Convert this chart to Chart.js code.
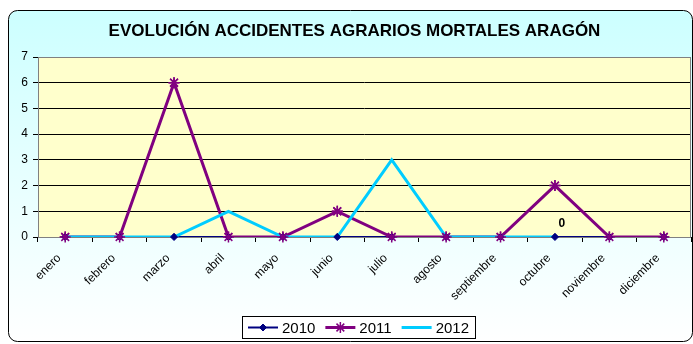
<!DOCTYPE html>
<html lang="es">
<head>
<meta charset="utf-8">
<title>Evolución accidentes agrarios mortales Aragón</title>
<script src="https://cdn.jsdelivr.net/npm/chart.js@4.4.1/dist/chart.umd.min.js"></script>
<style>
  html, body { margin: 0; padding: 0; background: #fff; }
  canvas { display: block; }
</style>
</head>
<body>
<canvas id="accidentesChart" width="693" height="344"></canvas>
<script>
// Meses del eje horizontal
const meses = ["enero", "febrero", "marzo", "abril", "mayo", "junio", "julio",
  "agosto", "septiembre", "octubre", "noviembre", "diciembre"];

// Accidentes mortales por mes y año
const valores2010 = [0, 0, 0, 0, 0, 0, 0, 0, 0, 0, 0, 0];
const valores2011 = [0, 0, 6, 0, 0, 1, 0, 0, 0, 2, 0, 0];
const valores2012 = [0, 0, 0, 1, 0, 0, 3, 0, 0, 0, null, null]; // hasta octubre

// Marcas del eje vertical
const ticksY = [0, 1, 2, 3, 4, 5, 6, 7];

// Valores rotulados en el gráfico: [serie, mes]
const rotulos = [[0, 9]];

const fuente = '"Liberation Sans", Arial, sans-serif';

// Fondo del gráfico: marco redondeado con degradado y área de trazado amarilla
const fondo = {
  id: "fondo",
  beforeDraw(chart) {
    const ctx = chart.ctx;
    const a = chart.chartArea;
    ctx.save();
    const grad = ctx.createLinearGradient(0, 10, 0, chart.height);
    grad.addColorStop(0, "#ccffff");
    grad.addColorStop(0.45, "#e4ffff");
    grad.addColorStop(1, "#ffffff");
    ctx.beginPath();
    ctx.roundRect(8.5, 10.5, 684, 331, 9);
    ctx.fillStyle = grad;
    ctx.fill();
    ctx.strokeStyle = "#000";
    ctx.lineWidth = 1;
    ctx.stroke();
    ctx.fillStyle = "#ffffcc";
    ctx.fillRect(a.left, a.top, a.right - a.left, a.bottom - a.top);
    ctx.restore();
  },
  beforeDatasetsDraw(chart) {
    const ctx = chart.ctx;
    const a = chart.chartArea;
    ctx.save();
    ctx.strokeStyle = "#808080";
    ctx.lineWidth = 1;
    ctx.strokeRect(a.left + 0.5, a.top + 0.5, a.right - a.left - 1, a.bottom - a.top);
    ctx.restore();
  }
};

// Marcadores por encima de las líneas (2010 y luego 2011) y rótulos de valor
const valores = {
  id: "valores",
  afterDatasetsDraw(chart) {
    const ctx = chart.ctx;
    [0, 1].forEach(s => chart.getDatasetMeta(s).data.forEach(p => p.draw(ctx, chart.chartArea)));
    ctx.save();
    ctx.font = "bold 12px " + fuente;
    ctx.fillStyle = "#000";
    ctx.textAlign = "center";
    ctx.textBaseline = "middle";
    rotulos.forEach(([s, i]) => {
      const p = chart.getDatasetMeta(s).data[i];
      ctx.fillText(String(chart.data.datasets[s].data[i]), p.x + 7, p.y - 13);
    });
    ctx.restore();
  }
};

// Leyenda con línea y marcador de cada serie, en recuadro
const leyenda = {
  id: "leyenda",
  afterDraw(chart) {
    const ctx = chart.ctx;
    const series = chart.data.datasets;
    const x0 = 242, y0 = 316, alto = 22, pad = 6, linea = 30, hueco = 4, sep = 10;
    ctx.save();
    ctx.font = "15px " + fuente;
    const anchos = series.map(d => ctx.measureText(d.label).width);
    const total = anchos.reduce((s, w) => s + linea + hueco + w, 0) + sep * (series.length - 1) + pad * 2;
    ctx.fillStyle = "#fff";
    ctx.fillRect(x0, y0, total, alto);
    ctx.strokeStyle = "#000";
    ctx.lineWidth = 1;
    ctx.strokeRect(x0 + 0.5, y0 + 0.5, total, alto);
    let x = x0 + pad;
    const y = y0 + alto / 2 + 0.5;
    series.forEach((d, k) => {
      ctx.strokeStyle = d.borderColor;
      ctx.lineWidth = d.borderWidth;
      ctx.beginPath();
      ctx.moveTo(x, y);
      ctx.lineTo(x + linea, y);
      ctx.stroke();
      if (d.pointRadius > 0) {
        ctx.fillStyle = d.pointBackgroundColor;
        ctx.strokeStyle = d.pointBorderColor;
        ctx.lineWidth = d.pointBorderWidth;
        Chart.helpers.drawPoint(ctx, {
          pointStyle: d.pointStyle, radius: d.pointRadius,
          borderWidth: d.pointBorderWidth, rotation: 0
        }, x + linea / 2, y);
      }
      ctx.fillStyle = "#000";
      ctx.textAlign = "left";
      ctx.textBaseline = "middle";
      ctx.fillText(d.label, x + linea + hueco, y + 1);
      x += linea + hueco + anchos[k] + sep;
    });
    ctx.restore();
  }
};

const config = {
  type: "line",
  data: {
    labels: meses,
    datasets: [
      {
        label: "2010",
        data: valores2010,
        borderColor: "#000080",
        borderWidth: 2,
        pointStyle: "rectRot",
        pointRadius: 3.5,
        pointBackgroundColor: "#000080",
        pointBorderColor: "#000080",
        pointBorderWidth: 1,
        order: 3
      },
      {
        label: "2011",
        data: valores2011,
        borderColor: "#800080",
        borderWidth: 3,
        pointStyle: "star",
        pointRadius: 5.5,
        pointBackgroundColor: "#800080",
        pointBorderColor: "#800080",
        pointBorderWidth: 1.5,
        order: 2
      },
      {
        label: "2012",
        data: valores2012,
        borderColor: "#00ccff",
        borderWidth: 3,
        pointRadius: 0,
        order: 1
      }
    ]
  },
  options: {
    responsive: false,
    animation: false,
    events: [],
    layout: { autoPadding: false, padding: { left: 18, right: 2, top: 10, bottom: 0 } },
    elements: { line: { tension: 0 } },
    plugins: {
      legend: { display: false },
      tooltip: { enabled: false },
      title: {
        display: true,
        text: "EVOLUCIÓN ACCIDENTES AGRARIOS MORTALES ARAGÓN",
        color: "#000",
        font: { family: fuente, size: 17, weight: "bold" },
        padding: { top: 11, bottom: 15.6 }
      }
    },
    scales: {
      x: {
        offset: true,
        border: { display: false },
        grid: { offset: true, drawOnChartArea: false, tickLength: 5, tickColor: "#000" },
        ticks: {
          minRotation: 45, maxRotation: 45, padding: 9, labelOffset: -6, color: "#000",
          font: { family: fuente, size: 12 }
        },
        afterFit: s => {
          s.height = 107;
          s.paddingLeft = 0;
          s.paddingRight = 0;
        }
      },
      y: {
        min: 0,
        max: 7,
        border: { display: false },
        afterBuildTicks: s => { s.ticks = ticksY.map(v => ({ value: v })); },
        grid: {
          color: c => (c.tick.value === 7 ? "rgba(0,0,0,0)" : "#000"),
          tickColor: "#000",
          tickLength: 5,
          lineWidth: 1
        },
        ticks: { padding: 5, color: "#000", font: { family: fuente, size: 12 } },
        afterFit: s => { s.width = 20; }
      }
    }
  },
  plugins: [fondo, valores, leyenda]
};

const grafico = new Chart(document.getElementById("accidentesChart"), config);
</script>
</body>
</html>
